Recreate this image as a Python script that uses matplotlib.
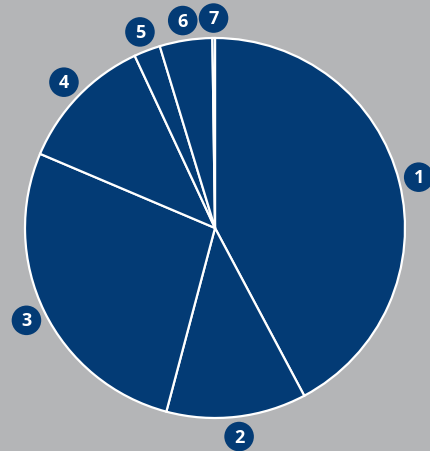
import matplotlib
matplotlib.use("Agg")
from matplotlib import pyplot as plt

# shares of each numbered segment (percent)
labels = ["1", "2", "3", "4", "5", "6", "7"]
shares = [42.2, 11.9, 27.25, 11.67, 2.25, 4.47, 0.22]

navy = "#033b75"
bg = "#b4b5b7"

fig = plt.figure(figsize=(4.30, 4.52), dpi=100, facecolor=bg)
ax = fig.add_axes([0, 0, 1, 1])
ax.set_facecolor(bg)

wedges, texts = ax.pie(shares, labels=labels, startangle=90, counterclock=False,
                       colors=[navy] * len(shares), labeldistance=1.105,
                       wedgeprops=dict(edgecolor="white", linewidth=1.6))

for t in texts:
    t.set_ha("center")
    t.set_va("center")
    t.set_color("white")
    t.set_fontsize(13)
    t.set_fontweight("bold")
    t.set_fontfamily("Open Sans")
    t.set_bbox(dict(boxstyle="circle,pad=0.32", fc=navy, ec="none"))

# radius 1 -> 190 px, centre at (215, 229) px
ax.set_aspect("auto")
ax.set_xlim(-215 / 190, 215 / 190)
ax.set_ylim(-223 / 190, 229 / 190)
ax.axis("off")

fig.savefig("out.png", dpi=100, facecolor=bg)
